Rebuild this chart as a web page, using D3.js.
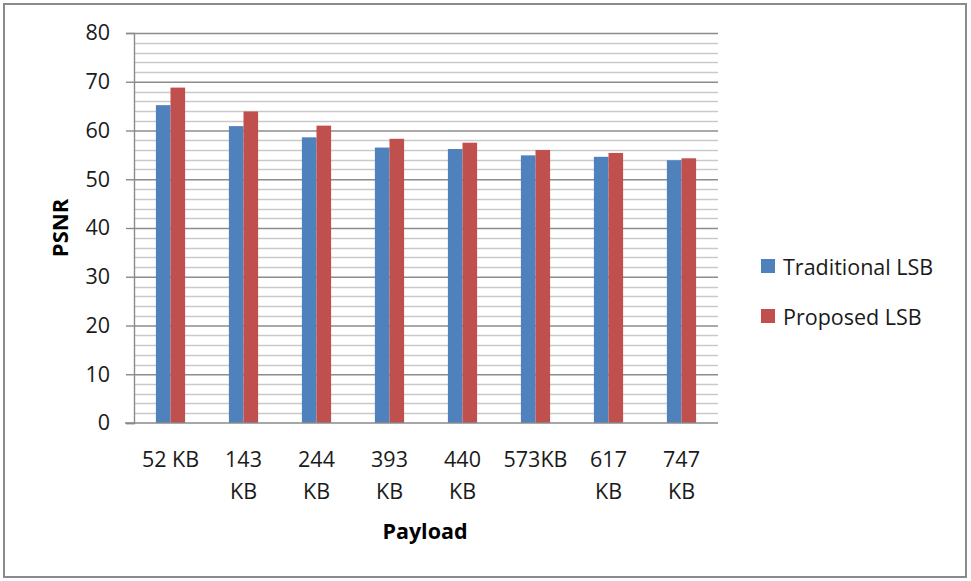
<!DOCTYPE html>
<html>
<head>
<meta charset="utf-8">
<script src="https://cdn.jsdelivr.net/npm/d3@7"></script>
<style>
  html, body { margin: 0; padding: 0; background: #fff; }
  svg { display: block; font-family: "Open Sans", "DejaVu Sans", sans-serif; }
</style>
</head>
<body>
<svg id="chart" width="971" height="581"></svg>
<script>
// PSNR by payload size for the two embedding methods
const categories = ["52 KB", "143 KB", "244 KB", "393 KB", "440 KB", "573KB", "617 KB", "747 KB"];
const traditionalLSB = [65.2, 60.9, 58.6, 56.5, 56.2, 54.9, 54.6, 53.9];
const proposedLSB   = [68.8, 63.9, 61.0, 58.3, 57.5, 56.0, 55.4, 54.3];
const seriesNames = ["Traditional LSB", "Proposed LSB"];
const seriesColors = ["#4F81BD", "#C0504D"];
const yTicks = [0, 10, 20, 30, 40, 50, 60, 70, 80];
const yMinorTicks = d3.range(0, 81, 2);

const svg = d3.select("#chart");
const W = 971, H = 581;
const plot = { left: 134, right: 718, top: 33, bottom: 423 };
const FS = 21.5;
const textColor = "#1a1a1a";

// outer frame
svg.append("rect")
  .attr("x", 4).attr("y", 4).attr("width", W - 9).attr("height", H - 8)
  .attr("fill", "#fff").attr("stroke", "#8a8a8a").attr("stroke-width", 2);

const y = d3.scaleLinear().domain([0, 80]).range([plot.bottom, plot.top]);
const x = d3.scaleBand().domain(categories).range([plot.left, plot.right]).padding(0);
const groupW = x.bandwidth() * 0.4;
const xs = d3.scaleBand().domain(seriesNames).range([0, groupW]).padding(0);

// minor gridlines
svg.append("g").selectAll("line")
  .data(yMinorTicks.filter(v => v % 10 !== 0))
  .join("line")
  .attr("x1", plot.left).attr("x2", plot.right)
  .attr("y1", d => Math.round(y(d)) + 0.5).attr("y2", d => Math.round(y(d)) + 0.5)
  .attr("stroke", "#c9c9c9").attr("stroke-width", 1.4);

// y axis with major gridlines
const yAxis = d3.axisLeft(y).tickValues(yTicks).tickSize(8).tickPadding(16);
const gy = svg.append("g")
  .attr("transform", `translate(${plot.left},0)`)
  .call(yAxis);
gy.select(".domain").attr("stroke", "#8a8a8a").attr("stroke-width", 1.4);
gy.selectAll(".tick line").attr("stroke", "#8a8a8a").attr("stroke-width", 1.4);
gy.selectAll(".tick text")
  .attr("font-size", FS).attr("fill", textColor)
  .attr("font-family", "'Open Sans', sans-serif");
gy.selectAll(".tick")
  .filter(d => d > 0)
  .append("line")
  .attr("x1", 0).attr("x2", plot.right - plot.left)
  .attr("stroke", "#8c8c8c").attr("stroke-width", 1.4);

// bars
const data = categories.map((c, i) => ({
  cat: c,
  vals: [
    { name: seriesNames[0], v: traditionalLSB[i] },
    { name: seriesNames[1], v: proposedLSB[i] }
  ]
}));
const groups = svg.append("g").selectAll("g")
  .data(data)
  .join("g")
  .attr("transform", d => `translate(${x(d.cat) + x.bandwidth() / 2 - groupW / 2},0)`);
groups.selectAll("rect")
  .data(d => d.vals)
  .join("rect")
  .attr("x", d => xs(d.name))
  .attr("width", xs.bandwidth())
  .attr("y", d => y(d.v))
  .attr("height", d => y(0) - y(d.v))
  .attr("fill", (d, i) => seriesColors[i]);

// x axis
const xAxis = d3.axisBottom(x).tickSize(0).tickPadding(0);
const gx = svg.append("g")
  .attr("transform", `translate(0,${plot.bottom})`)
  .call(xAxis);
gx.select(".domain").remove();
gx.append("line")
  .attr("x1", plot.left - 9).attr("x2", plot.right)
  .attr("y1", 0).attr("y2", 0)
  .attr("stroke", "#8a8a8a").attr("stroke-width", 1.4);

// wrap category labels that are too wide for the slot
const maxLabelW = 66;
gx.selectAll(".tick text").each(function (d) {
  const t = d3.select(this);
  t.attr("font-size", FS).attr("fill", textColor)
    .attr("font-family", "'Open Sans', sans-serif")
    .attr("dy", null).attr("y", 44);
  const w = this.getComputedTextLength();
  if (w > maxLabelW && d.includes(" ")) {
    const parts = d.split(" ");
    t.text(null);
    parts.forEach((p, k) => {
      t.append("tspan").attr("x", 0).attr("y", 44 + k * 32).text(p);
    });
  }
});

// axis titles
svg.append("text")
  .attr("transform", `translate(68,${(plot.top + plot.bottom) / 2}) rotate(-90)`)
  .attr("text-anchor", "middle")
  .attr("font-size", 22).attr("font-weight", "bold").attr("fill", "#000")
  .text("PSNR");
svg.append("text")
  .attr("x", 425).attr("y", 539)
  .attr("text-anchor", "middle")
  .attr("font-size", 21.5).attr("font-weight", "bold").attr("fill", "#000")
  .text("Payload");

// legend
const legend = svg.append("g").attr("transform", "translate(761,259)");
const li = legend.selectAll("g")
  .data(seriesNames)
  .join("g")
  .attr("transform", (d, i) => `translate(0,${i * 50})`);
li.append("rect")
  .attr("width", 14).attr("height", 14)
  .attr("fill", (d, i) => seriesColors[i]);
li.append("text")
  .attr("x", 22).attr("y", 16)
  .attr("font-size", FS).attr("fill", textColor)
  .text(d => d);
</script>
</body>
</html>
